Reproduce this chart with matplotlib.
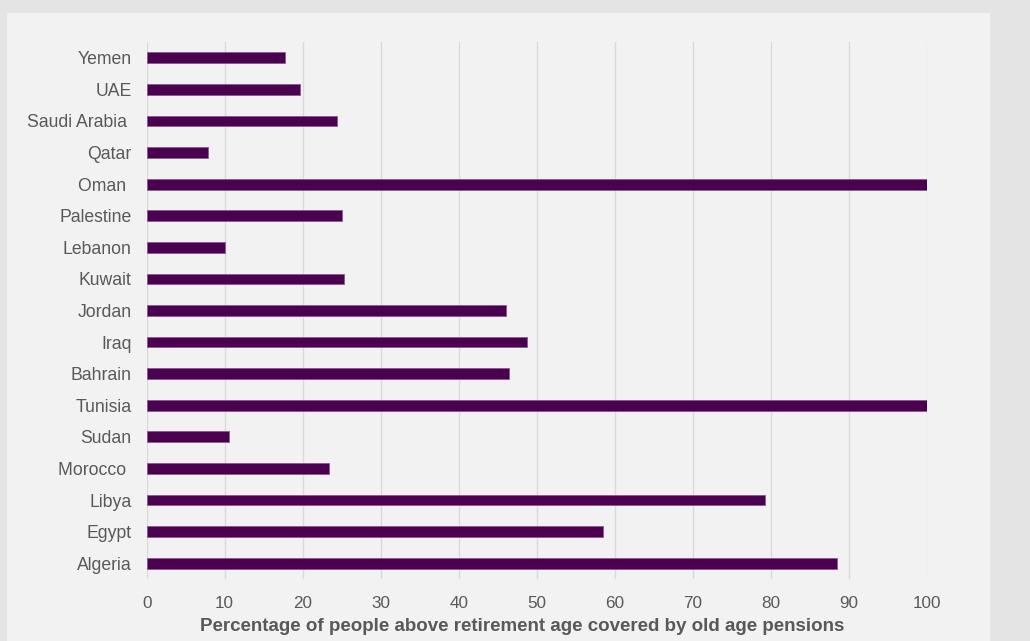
import matplotlib
matplotlib.use("Agg")
import matplotlib.pyplot as plt
from matplotlib.patches import Rectangle

plt.rcParams["font.family"] = ["Liberation Sans", "DejaVu Sans"]

# ── Data (bottom to top as drawn) ─────────────────────────────────────────────
countries = [
    "Algeria", "Egypt", "Libya", "Morocco ", "Sudan", "Tunisia", "Bahrain",
    "Iraq", "Jordan", "Kuwait", "Lebanon", "Palestine", "Oman ", "Qatar",
    "Saudi Arabia ", "UAE", "Yemen",
]
coverage = [
    88.5, 58.5, 79.3, 23.4, 10.6, 100, 46.5,
    48.8, 46.1, 25.3, 10.0, 25.0, 100, 7.9,
    24.4, 19.6, 17.7,
]
xticks = list(range(0, 101, 10))

BAR_COLOR  = "#4b0050"
EDGE_COLOR = "#8a5a90"
TEXT_COLOR = "#595959"
GRID_COLOR = "#d9d9d9"

W, H = 1030, 641
fig = plt.figure(figsize=(W / 100, H / 100), dpi=100)
fig.patch.set_facecolor("#e4e4e4")

# light panel behind the chart
fig.patches.append(Rectangle((7 / W, 0), (990 - 7) / W, 1 - 13 / H,
                             transform=fig.transFigure, facecolor="#f2f2f2",
                             edgecolor="none", zorder=-10))

ax = fig.add_axes([146.7 / W, 1 - 579 / H, 780 / W, (579 - 42) / H])
ax.set_facecolor("none")

y = range(len(countries))
ax.barh(y, coverage, height=0.34, color=BAR_COLOR, edgecolor=EDGE_COLOR,
        linewidth=0.6, zorder=3)

ax.set_xlim(0, 100)
ax.set_ylim(-0.5, len(countries) - 0.5)
ax.set_xticks(xticks)
ax.set_yticks(list(y))
ax.set_yticklabels(countries)

ax.grid(axis="x", color=GRID_COLOR, linewidth=1.0, zorder=0)
ax.set_axisbelow(True)
for s in ax.spines.values():
    s.set_visible(False)
ax.tick_params(axis="both", length=0, labelcolor=TEXT_COLOR)
ax.tick_params(axis="y", pad=11, labelsize=12.7)
ax.tick_params(axis="x", pad=12, labelsize=12.3)

ax.set_xlabel("Percentage of people above retirement age covered by old age pensions",
              fontsize=13.5, fontweight="bold", color=TEXT_COLOR)
ax.xaxis.set_label_coords(0.481, -0.073)

fig.savefig("out.png", dpi=100, facecolor=fig.get_facecolor())
